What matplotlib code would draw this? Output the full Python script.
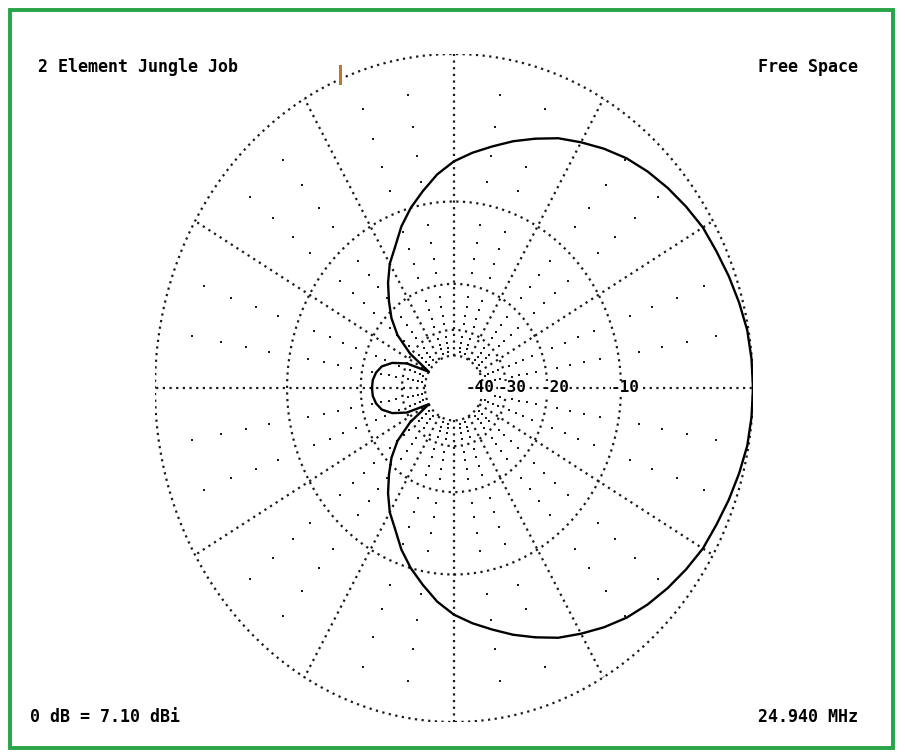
import numpy as np
import matplotlib
matplotlib.use("Agg")
import matplotlib.pyplot as plt
from matplotlib.patches import Rectangle

# Azimuth pattern of the 2-element beam, one half (pattern is symmetric about boresight)
az_half_deg = [0, 5, 10, 15, 20, 25, 30, 35, 40, 45, 50, 55, 60, 65, 70, 75, 80, 85, 90,
               95, 100, 105, 110, 115, 120, 125, 130, 135, 140, 145, 150, 155, 160, 165,
               170, 175, 180]
gain_half_db = [0.0, -0.02, -0.07, -0.22, -0.38, -0.55, -0.68, -0.93, -1.2, -1.5, -1.85,
                -2.3, -2.8, -3.3, -3.95, -4.6, -5.3, -5.95, -6.65, -7.6, -8.8, -10.0,
                -11.4, -13.1, -14.5, -16.4, -18.6, -20.9, -24.0, -29.5, -40.0, -30.0,
                -26.0, -23.8, -22.8, -22.3, -22.2]

ring_db = [0, -10, -20, -30, -40]
ring_labels = ["-40", "-30", "-20", "-10"]
ring_label_db = [-40, -30, -20, -10]
spoke_step_deg = 30
minor_step_deg = 10
minor_db_step = 2

title_left = "2 Element Jungle Job"
title_right = "Free Space"
ref_text = "0 dB = 7.10 dBi"
freq_text = "24.940 MHz"

W, H = 905, 753
CX, CY = 454, 388          # plot centre in pixels
RX, RY = 299, 334          # horizontal / vertical radius of the 0 dB ring in pixels


def arrl_radius(db):
    """ARRL log-periodic radial scale: 0 dB at 1.0."""
    return 0.89 ** (-np.asarray(db, dtype=float) / 2.0)


fig = plt.figure(figsize=(W / 100, H / 100), dpi=100)
fig.patch.set_facecolor("white")
ax = fig.add_axes([(CX - RX) / W, (H - CY - RY) / H, 2 * RX / W, 2 * RY / H])
ax.set_xlim(-1, 1)
ax.set_ylim(-1, 1)
ax.axis("off")

dot_style = dict(color="#1a1a1a", lw=1.6, ls=(0, (1, 2.0)), solid_capstyle="butt")

# dB rings
t = np.linspace(0, 2 * np.pi, 721)
for db in ring_db:
    r = arrl_radius(db)
    ax.plot(r * np.cos(t), r * np.sin(t), **dot_style)

# main spokes
r_in = arrl_radius(min(ring_db))
for a in range(0, 360, spoke_step_deg):
    th = np.deg2rad(a)
    ax.plot([r_in * np.cos(th), np.cos(th)], [r_in * np.sin(th), np.sin(th)], **dot_style)

# minor grid points every 10 degrees and every 2 dB
mx, my = [], []
for a in range(0, 360, minor_step_deg):
    if a % spoke_step_deg == 0:
        continue
    th = np.deg2rad(a)
    for db in range(-minor_db_step, min(ring_db), -minor_db_step):
        if db % 10 == 0:
            continue
        r = arrl_radius(db)
        mx.append(r * np.cos(th))
        my.append(r * np.sin(th))
ax.scatter(mx, my, s=3.0, marker="s", color="#1a1a1a", linewidths=0)

# pattern trace
az = np.asarray(az_half_deg, dtype=float)
g = np.asarray(gain_half_db, dtype=float)
theta = np.deg2rad(np.r_[-az[::-1], az[1:]])
gain = np.r_[g[::-1], g[1:]]
rp = arrl_radius(gain)
ax.plot(rp * np.cos(theta), rp * np.sin(theta), color="black", lw=1.7,
        solid_joinstyle="round", zorder=5)

# ring labels along the 0 degree spoke
mono = dict(family="DejaVu Sans Mono", fontweight="bold", color="black")
label_center_px = [480, 512, 555, 625]
for lab, cx in zip(ring_labels, label_center_px):
    ax.text((cx - CX) / RX, 0, lab, ha="center", va="center", fontsize=11.5, zorder=6,
            bbox=dict(boxstyle="square,pad=0.0", fc="white", ec="none"), **mono)

# corner annotations
fig.text(38 / W, 1 - 67 / H, title_left, ha="left", va="center", fontsize=12, **mono)
fig.text(858 / W, 1 - 67 / H, title_right, ha="right", va="center", fontsize=12, **mono)
fig.text(30 / W, 1 - 717 / H, ref_text, ha="left", va="center", fontsize=12, **mono)
fig.text(858 / W, 1 - 717 / H, freq_text, ha="right", va="center", fontsize=12, **mono)

# small cursor mark on the outer ring
fig.add_artist(plt.Line2D([340 / W, 340 / W], [1 - 66 / H, 1 - 83 / H],
                          color="#b87a30", lw=2.2, transform=fig.transFigure))

# green frame
fig.add_artist(Rectangle((10 / W, 1 - 748 / H), 883 / W, 738 / H, transform=fig.transFigure,
                         fill=False, ec="#27a348", lw=2.8))

fig.savefig("out.png", dpi=100, facecolor="white")
